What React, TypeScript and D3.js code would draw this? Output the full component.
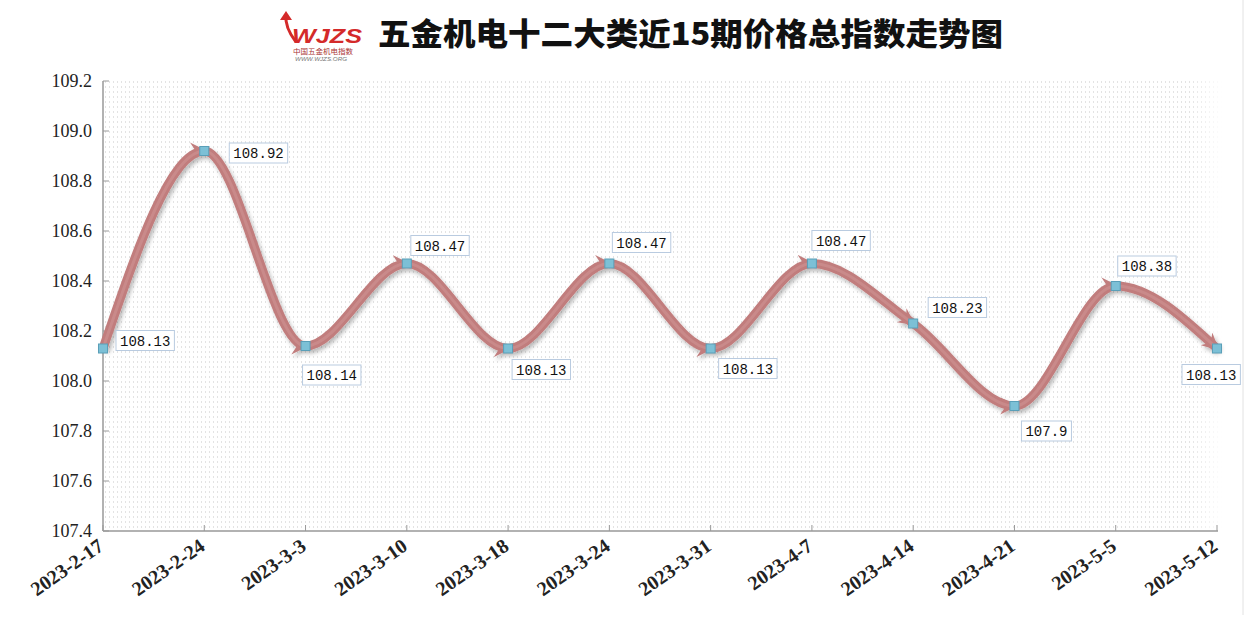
import React from "react";
import * as d3 from "d3";

const TITLE = "五金机电十二大类近15期价格总指数走势图";
const DATES = ["2023-2-17", "2023-2-24", "2023-3-3", "2023-3-10", "2023-3-18", "2023-3-24", "2023-3-31", "2023-4-7", "2023-4-14", "2023-4-21", "2023-5-5", "2023-5-12"];
const VALUES = [108.13, 108.92, 108.14, 108.47, 108.13, 108.47, 108.13, 108.47, 108.23, 107.9, 108.38, 108.13];
const LABELS = ["108.13", "108.92", "108.14", "108.47", "108.13", "108.47", "108.13", "108.47", "108.23", "107.9", "108.38", "108.13"];
const Y_TICKS = [107.4, 107.6, 107.8, 108.0, 108.2, 108.4, 108.6, 108.8, 109.0, 109.2];
// label box offsets (layout only)
const LABEL_OFFSETS: [number, number][] = [[13, -18], [25, -8], [-3, 19], [4, -28], [4, 11], [3, -31], [8, 10], [0, -33], [15, -26], [7, 15], [2, -30], [-35, 16]];

const W = 1245, H = 626;
const M = { left: 103, right: 1217, top: 81, bottom: 531 };

export default function App() {
  const x = d3.scalePoint<string>().domain(DATES).range([M.left, M.right]);
  const y = d3.scaleLinear().domain([107.4, 109.2]).range([M.bottom, M.top]);
  const pts = DATES.map((d, i) => [x(d)!, y(VALUES[i])] as [number, number]);
  const pathStr = d3.line().curve(d3.curveMonotoneX)(pts) || "";
  const parts = pathStr.slice(1).split("C");
  const segs: string[] = [];
  let prev = parts[0];
  for (let i = 1; i < parts.length; i++) {
    segs.push(`M${prev}C${parts[i]}`);
    const nums = parts[i].split(/[ ,]/).filter((s) => s.length);
    prev = `${nums[nums.length - 2]},${nums[nums.length - 1]}`;
  }

  return (
    <svg width={W} height={H} style={{ position: "absolute", left: 0, top: 0, background: "#fff" }}>
      <defs>
        <pattern id="dots" width="4" height="5" patternUnits="userSpaceOnUse">
          <rect x="1" y="1" width="1" height="2" fill="#e3e3e3" />
        </pattern>
        <linearGradient id="fade" x1="0" x2="1" y1="0" y2="0">
          <stop offset="0.97" stopColor="#fff" stopOpacity="0" />
          <stop offset="1" stopColor="#fff" stopOpacity="1" />
        </linearGradient>
        <filter id="shadow" x="-10%" y="-10%" width="120%" height="130%">
          <feDropShadow dx="2" dy="3" stdDeviation="2" floodColor="#000" floodOpacity="0.28" />
        </filter>
        <marker id="arrow" viewBox="0 0 12 12" refX="10" refY="6" markerWidth="1.9" markerHeight="1.9" orient="auto" markerUnits="strokeWidth">
          <path d="M0,0 L12,6 L0,12 L4,6 Z" fill="#c17d7d" />
        </marker>
      </defs>

      {/* plot background */}
      <rect x={M.left} y={M.top - 1} width={M.right - M.left + 6} height={M.bottom - M.top + 1} fill="url(#dots)" />
      <rect x={M.left} y={M.top - 1} width={M.right - M.left + 6} height={M.bottom - M.top + 1} fill="url(#fade)" />
      <line x1={W - 2} x2={W - 2} y1={0} y2={615} stroke="#e2e2e2" />

      {/* title */}
      <g>
        <path d="M296,42 C289,33 285,24 286,15" fill="none" stroke="#d42a2a" strokeWidth="3" />
        <path d="M280,20 L286,11 L292,20 Z" fill="#d42a2a" />
        <text x={292} y={43} fontFamily="Liberation Sans" fontWeight="bold" fontStyle="italic" fontSize="20" fill="#d42a2a" textLength={70} lengthAdjust="spacingAndGlyphs">WJZS</text>
        <text x={293} y={54} fontFamily="Noto Sans CJK SC" fontSize="7" fill="#a33" textLength={60} lengthAdjust="spacingAndGlyphs">中国五金机电指数</text>
        <text x={295} y={61} fontFamily="Liberation Sans" fontStyle="italic" fontSize="6" fill="#777" textLength={52} lengthAdjust="spacingAndGlyphs">WWW.WJZS.ORG</text>
        <text x={378} y={45} fontFamily="Noto Sans CJK SC" fontWeight="900" fontSize="31" fill="#111" textLength={625} lengthAdjust="spacingAndGlyphs">{TITLE}</text>
      </g>

      {/* axes */}
      <line x1={M.left} x2={M.left} y1={M.top} y2={M.bottom} stroke="#999" strokeWidth="1.5" />
      <line x1={M.left} x2={M.right + 1} y1={M.bottom} y2={M.bottom} stroke="#999" strokeWidth="1.5" />
      {Y_TICKS.map((t) => (
        <g key={t}>
          <line x1={M.left} x2={M.left + 6} y1={y(t)} y2={y(t)} stroke="#999" />
          <text x={92} y={y(t) + 6} textAnchor="end" fontFamily="Liberation Serif" fontSize="18" fill="#222">{t.toFixed(1)}</text>
        </g>
      ))}
      {DATES.map((d) => (
        <g key={d}>
          <line x1={x(d)!} x2={x(d)!} y1={M.bottom} y2={M.bottom - 6} stroke="#999" />
          <text transform={`translate(${x(d)! + 2},${M.bottom + 18}) rotate(-35)`} textAnchor="end" fontFamily="Liberation Serif" fontWeight="bold" fontSize="20" fill="#222">{d}</text>
        </g>
      ))}

      {/* line segments with arrow heads */}
      <g filter="url(#shadow)">
        {segs.map((s, i) => (
          <path key={i} d={s} fill="none" stroke="#c17d7d" strokeWidth="9" markerEnd="url(#arrow)" />
        ))}
      </g>
      <g>
        {segs.map((s, i) => (
          <path key={i} d={s} fill="none" stroke="#d29898" strokeWidth="3" opacity="0.5" />
        ))}
      </g>

      {/* markers */}
      {pts.map(([px, py], i) => (
        <rect key={i} x={px - 4.5} y={py - 4.5} width={9} height={9} fill="#7cc0d6" stroke="#5a9fb8" strokeWidth="1" />
      ))}

      {/* data labels */}
      {pts.map(([px, py], i) => {
        const w = LABELS[i].length * 8.4 + 8;
        const [ox, oy] = LABEL_OFFSETS[i];
        return (
          <g key={i} transform={`translate(${px + ox},${py + oy})`}>
            <rect x={0} y={0} width={w} height={20} fill="#fff" stroke="#b9cbe0" />
            <text x={4} y={15} fontFamily="Liberation Mono" fontSize="14" fill="#111">{LABELS[i]}</text>
          </g>
        );
      })}
    </svg>
  );
}
